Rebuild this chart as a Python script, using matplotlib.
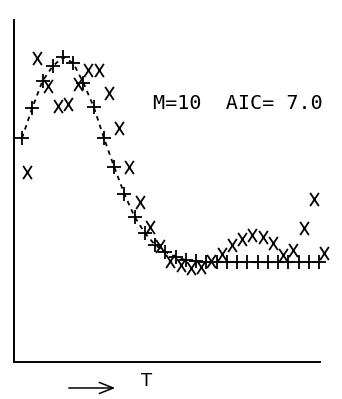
import matplotlib
matplotlib.use("Agg")
import matplotlib.pyplot as plt
import matplotlib.transforms as mtransforms
from matplotlib.patches import FancyArrowPatch
from matplotlib.path import Path

# sample index T (30 equally spaced samples)
t = list(range(1, 31))

# fitted model values (+, dashed curve)
model = [6.55, 7.43, 8.22, 8.65, 8.92, 8.74, 8.16, 7.46, 6.55, 5.70,
         4.91, 4.24, 3.77, 3.42, 3.22, 3.07, 2.98, 2.95, 2.92, 2.92,
         2.92, 2.92, 2.92, 2.92, 2.92, 2.92, 2.92, 2.92, 2.92, 2.92]

# observed data (X)
data = [5.56, 8.89, 8.07, 7.49, 7.54, 8.13, 8.54, 8.54, 7.87, 6.84,
        5.70, 4.68, 3.95, 3.39, 2.95, 2.84, 2.75, 2.78, 2.95, 3.16,
        3.42, 3.60, 3.71, 3.65, 3.48, 3.13, 3.27, 3.92, 4.77, 3.19]

label = "M=10  AIC= 7.0"

# narrow plotter-style "X" glyph
x_glyph = Path([(-0.33, -0.5), (0.33, 0.5), (-0.33, 0.5), (0.33, -0.5)],
               [Path.MOVETO, Path.LINETO, Path.MOVETO, Path.LINETO])

fig = plt.figure(figsize=(3.42, 3.99), dpi=100)
ax = fig.add_axes([0.041, 0.0927, 0.895, 0.857])

ax.plot(t, model, color="black", lw=1.3, ls=(0, (2.5, 2.5)),
        marker="+", ms=10, mew=1.3, clip_on=False)

# plotter draws the X character slightly right of the point
shift = mtransforms.offset_copy(ax.transData, fig=fig, x=5, y=0, units="dots")
ax.plot(t, data, ls="none", color="black", marker=x_glyph, ms=9.5,
        mew=1.3, mfc="none", transform=shift, clip_on=False)

ax.set_xlim(0.22, 30.1)
ax.set_ylim(0, 10)
ax.set_xticks([])
ax.set_yticks([])
for side in ("top", "right"):
    ax.spines[side].set_visible(False)
for side in ("left", "bottom"):
    ax.spines[side].set_linewidth(1.4)

ax.text(0.454, 0.757, label, transform=ax.transAxes, ha="left", va="center",
        family="DejaVu Sans Mono", fontsize=14.5)

arrow = FancyArrowPatch((0.193, 0.0276), (0.345, 0.0276),
                        transform=fig.transFigure,
                        arrowstyle="->,head_length=1.0,head_width=0.4",
                        mutation_scale=10, lw=1.1, color="black")
fig.add_artist(arrow)
fig.text(0.43, 0.046, "T", ha="center", va="center", fontsize=13)

fig.savefig("out.png", dpi=100)
